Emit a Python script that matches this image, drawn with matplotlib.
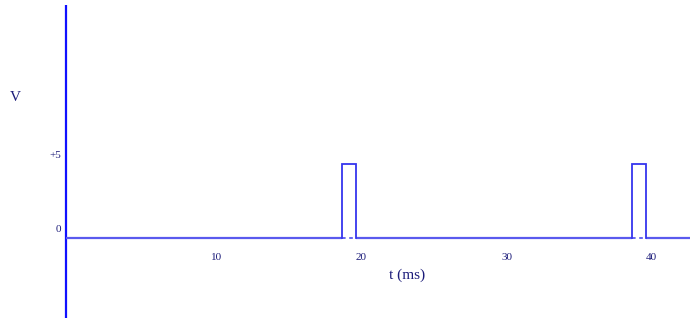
import matplotlib
matplotlib.use("Agg")
import matplotlib.pyplot as plt

# pulse train (ms, volts)
pulse_starts = [19.0, 39.0]
pulse_width = 1.0
pulse_height = 5.0
t_end = 43.0

x_ticks = [10, 20, 30, 40]
x_tick_labels = ["10", "20", "30", "40"]
y_ticks = [0, 5]
y_tick_labels = ["0", "+5"]

axis_blue = "#1010ff"
line_blue = "#5a5aee"
pulse_blue = "#3535ee"
text_navy = "#1c1c7a"

plt.rcParams["font.family"] = ["Liberation Serif", "DejaVu Serif"]

fig = plt.figure(figsize=(6.9, 3.2), dpi=100)
ax = fig.add_axes([0, 0, 1, 1])
ax.set_xlim(-66 / 14.5, 624 / 14.5)
ax.set_ylim(-82 / 14.8, 238 / 14.8)
ax.axis("off")

# axes lines
ax.plot([0, 0], [-5.4, 15.75], color=axis_blue, lw=1.6, solid_capstyle="butt")

# baseline: solid between pulses, dotted under each pulse
edges = [0.0]
for s in pulse_starts:
    edges += [s, s + pulse_width]
edges.append(t_end)
for i in range(0, len(edges) - 1, 2):
    ax.plot([edges[i], edges[i + 1]], [0, 0], color=line_blue, lw=1.6,
            solid_capstyle="butt")
for s in pulse_starts:
    ax.plot([s, s + pulse_width], [0, 0], color=line_blue, lw=1.3,
            linestyle=(0, (2, 2)))

# pulses
for s in pulse_starts:
    ax.plot([s, s, s + pulse_width, s + pulse_width],
            [0, pulse_height, pulse_height, 0],
            color=pulse_blue, lw=1.3, solid_joinstyle="miter")

for xt, lab in zip(x_ticks, x_tick_labels):
    ax.text(xt, -1.0, lab, ha="left", va="top", fontsize=8, color=text_navy)
for yt, lab in zip(y_ticks, y_tick_labels):
    ax.text(-0.35, yt + 0.3, lab, ha="right", va="bottom", fontsize=8,
            color=text_navy)

ax.text(23.5, -2.5, "t (ms)", ha="center", va="center", fontsize=11,
        color=text_navy)
ax.text(-3.5, 9.5, "V", ha="center", va="center", fontsize=11, color=text_navy)

fig.savefig("out.png", dpi=100)
